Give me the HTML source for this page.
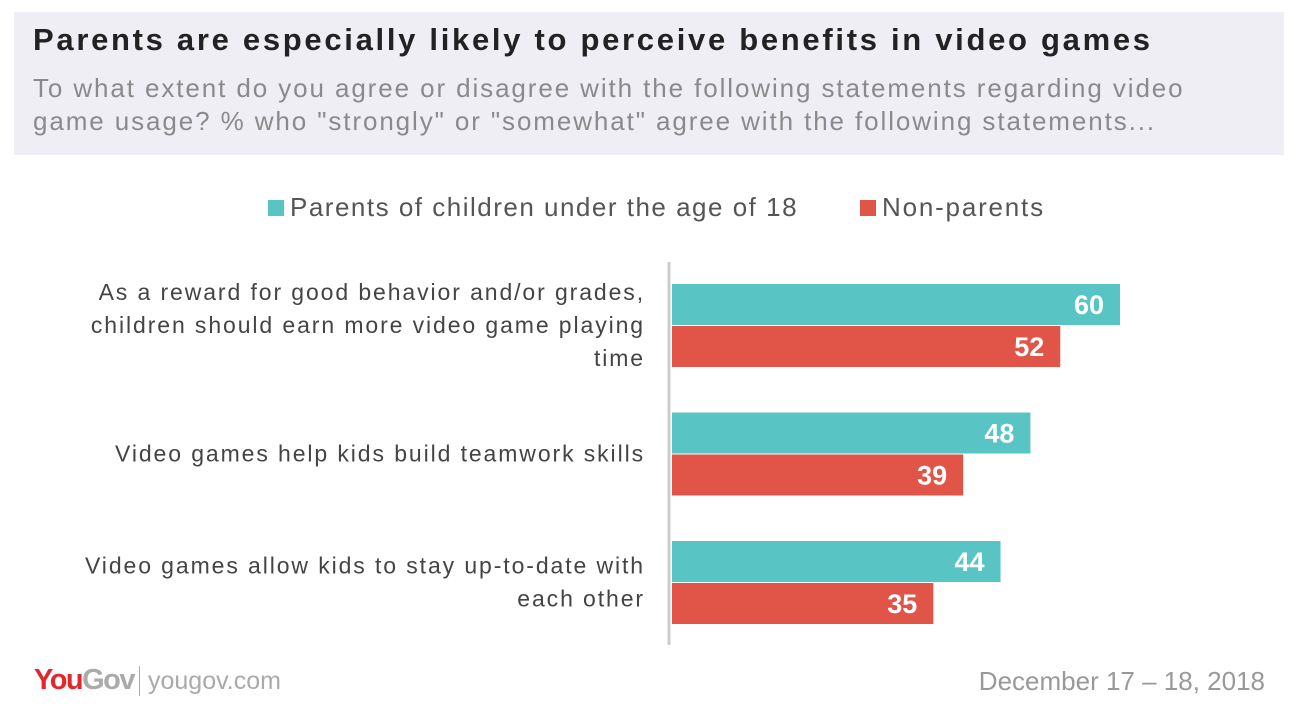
<!DOCTYPE html>
<html><head><meta charset="utf-8"><style>
body{margin:0;width:1296px;height:722px;background:#fff;font-family:"Liberation Sans",sans-serif;position:relative;overflow:hidden}
.abs{position:absolute}
</style></head><body>
<div class="abs" style="left:14px;top:12px;width:1270px;height:143px;background:#f0eef5"></div>
<div class="abs" style="left:33px;top:22px;font-size:31px;font-weight:bold;color:#222;letter-spacing:2.7px;white-space:nowrap">Parents are especially likely to perceive benefits in video games</div>
<div class="abs" style="left:33px;top:72px;font-size:26px;line-height:33px;color:#8a8a8a;width:1200px;letter-spacing:1.9px">To what extent do you agree or disagree with the following statements regarding video game usage? % who "strongly" or "somewhat" agree with the following statements...</div>
<div class="abs" style="left:268px;top:192px;font-size:26px;color:#555;white-space:nowrap;letter-spacing:1.5px"><span style="display:inline-block;width:16px;height:16px;background:#58c4c3;margin-right:6px"></span>Parents of children under the age of 18</div>
<div class="abs" style="left:860px;top:192px;font-size:26px;color:#555;white-space:nowrap;letter-spacing:1.8px"><span style="display:inline-block;width:16px;height:16px;background:#e05547;margin-right:6px"></span>Non-parents</div>
<svg class="abs" style="left:0;top:0" width="1296" height="722" id="chart"></svg>
<div class="abs" style="left:34px;top:664px;font-size:29px;font-weight:bold;letter-spacing:-1.5px"><span style="color:#e3262b">You</span><span style="color:#aaa">Gov</span></div>
<div class="abs" style="left:139px;top:666px;width:1px;height:30px;background:#aaa"></div>
<div class="abs" style="left:148px;top:667px;font-size:25px;color:#aaa">yougov.com</div>
<div class="abs" style="right:31px;top:666px;font-size:26px;color:#999">December 17 – 18, 2018</div>
<script>
const categories=[["As a reward for good behavior and/or grades,","children should earn more video game playing","time"],["Video games help kids build teamwork skills"],["Video games allow kids to stay up-to-date with","each other"]];
const parents=[60,48,44];
const nonParents=[52,39,35];
const svg=document.getElementById('chart');
const NS='http://www.w3.org/2000/svg';
const x0=672,scale=448/60;
const xs=v=>x0+v*scale;
function mk(t,a){const e=document.createElementNS(NS,t);for(const k in a)e.setAttribute(k,a[k]);svg.appendChild(e);return e;}
const axis=mk('line',{x1:669,y1:262,x2:669,y2:645,stroke:'#ccc','stroke-width':3});


categories.forEach((c,i)=>{
  const top=284+i*128.5;
  [[parents[i],'#58c4c3',top,'parents'],[nonParents[i],'#e05547',top+42,'non-parents']].forEach(([v,col,y,nm])=>{
    const r=mk('rect',{x:x0,y:y,width:xs(v)-x0,height:41,fill:col});
    
    
    const t=mk('text',{x:xs(v)-16,y:y+30,'text-anchor':'end','font-size':27,'font-weight':'bold',fill:'#fff','font-family':'Liberation Sans, sans-serif'});
    t.textContent=v;
    
    
  });
  const mid=top+41;
  const n=c.length;
  c.forEach((line,j)=>{
    const t=mk('text',{x:645,'text-anchor':'end','font-size':23,fill:'#444','font-family':'Liberation Sans, sans-serif','letter-spacing':'1.9'});
    t.setAttribute('y',mid+(j-(n-1)/2)*33+8);
    t.textContent=line;
    
    
  });
});
</script>
</body></html>
